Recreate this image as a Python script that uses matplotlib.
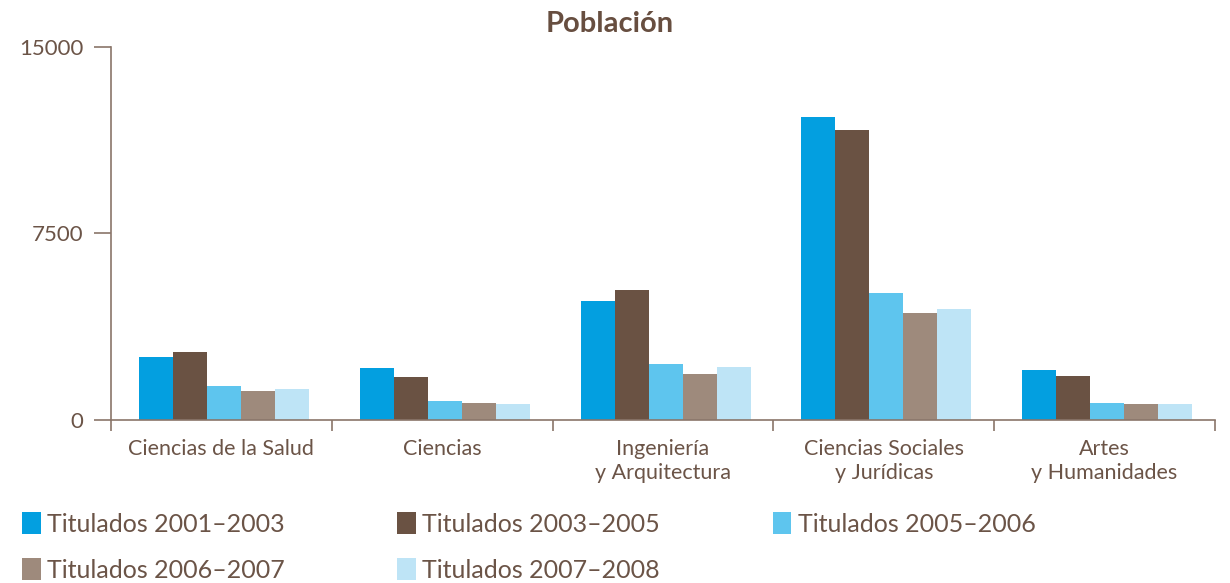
import numpy as np
import matplotlib.pyplot as plt

plt.rcParams['font.family'] = ['Lato', 'DejaVu Sans']

categories = ['Ciencias de la Salud', 'Ciencias', 'Ingeniería\ny Arquitectura',
              'Ciencias Sociales\ny Jurídicas', 'Artes\ny Humanidades']
series = ['Titulados 2001–2003', 'Titulados 2003–2005', 'Titulados 2005–2006',
          'Titulados 2006–2007', 'Titulados 2007–2008']
t_2001_2003 = [2540, 2090, 4780, 12190, 2010]
t_2003_2005 = [2730, 1730, 5230, 11660, 1770]
t_2005_2006 = [1370, 760, 2250, 5100, 680]
t_2006_2007 = [1170, 680, 1850, 4300, 640]
t_2007_2008 = [1250, 640, 2130, 4460, 640]
values = [t_2001_2003, t_2003_2005, t_2005_2006, t_2006_2007, t_2007_2008]
colors = ['#039fe0', '#6a5243', '#5ec5ee', '#9e8a7c', '#bee4f6']
txt = '#6b5447'
axis_col = '#8a766a'

fig = plt.figure(figsize=(12.3, 5.83), dpi=100)
ax = fig.add_axes([0.0902, 0.2796, 0.8976, 0.6398])

x = np.arange(len(categories))
w = 0.154
handles = []
for i, (s, v) in enumerate(zip(series, values)):
    b = ax.bar(x + (i - 2) * w + 0.012, v, width=w, color=colors[i], label=s)
    handles.append(b)

ax.set_xlim(-0.5, 4.5)
ax.set_ylim(0, 15000)
ax.set_yticks([0, 7500, 15000])
ax.set_yticklabels(['0', '7500', '15000'], fontsize=16, color=txt)
ax.set_xticks(np.arange(-0.5, 5.0, 1.0))
ax.set_xticklabels([])
ax.set_xticks(x, minor=True)
ax.set_xticklabels(categories, minor=True, fontsize=15.5, color=txt, linespacing=1.2)
ax.tick_params(axis='x', which='minor', length=0, pad=14)
ax.tick_params(axis='x', which='major', length=8, color=axis_col, width=1.2)
ax.tick_params(axis='y', length=12, color=axis_col, width=1.2, pad=8)

for side in ['top', 'right']:
    ax.spines[side].set_visible(False)
for side in ['left', 'bottom']:
    ax.spines[side].set_color(axis_col)
    ax.spines[side].set_linewidth(1.2)

fig.text(0.496, 0.958, 'Población', ha='center', va='center', fontsize=21,
         fontweight='bold', color='#674e40')

# legend is filled column by column, reorder so it reads row by row
order = [0, 3, 1, 4, 2]
leg = fig.legend(handles=[handles[k] for k in order], loc='upper left',
                 bbox_to_anchor=(0.0179, 0.122), ncol=3, frameon=False, fontsize=18,
                 handlelength=0.75, handleheight=1.0, handletextpad=0.25,
                 columnspacing=4.5, labelspacing=0.9, borderpad=0, borderaxespad=0)
for t in leg.get_texts():
    t.set_color(txt)

fig.savefig('out.png', dpi=100)
